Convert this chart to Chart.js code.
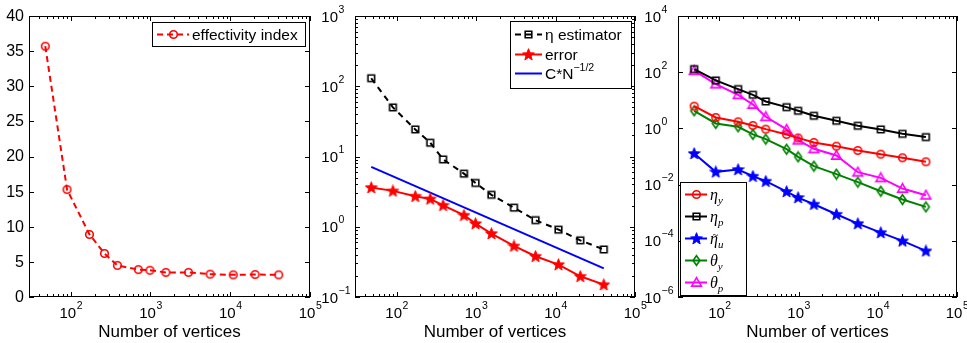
<!DOCTYPE html>
<html>
<head>
<meta charset="utf-8">
<script src="https://cdn.jsdelivr.net/npm/chart.js@4.4.1/dist/chart.umd.min.js"></script>
<style>
  body { margin: 0; background: #fff; }
  #wrap { position: relative; width: 967px; height: 343px; background: #fff; }
  #wrap canvas { position: absolute; left: 0; top: 0; }
</style>
</head>
<body>
<div id="wrap">
  <canvas id="effChart" width="967" height="343"></canvas>
  <canvas id="errChart" width="967" height="343"></canvas>
  <canvas id="partChart" width="967" height="343"></canvas>
</div>
<script>
// mesh sizes
const vertices = [48, 90, 172, 265, 385, 705, 985, 1560, 3000, 5600, 10900, 20500, 40500];

// left panel
const effectivity = [35.7, 15.3, 8.9, 6.2, 4.5, 3.9, 3.8, 3.5, 3.5, 3.25, 3.15, 3.2, 3.15];

// middle panel
const estimator = [130, 50, 24.3, 15.7, 9.1, 5.7, 4.2, 2.85, 1.87, 1.24, 0.91, 0.64, 0.475];
const errorVals = [3.62, 3.24, 2.72, 2.49, 2.02, 1.46, 1.11, 0.8, 0.533, 0.38, 0.289, 0.197, 0.15];
const rateX = [48, 40500];
const rateY = [7.1, 0.255];

// right panel
const etaY = [6.2, 2.45, 1.72, 1.27, 0.94, 0.61, 0.46, 0.315, 0.233, 0.164, 0.121, 0.09, 0.065];
const etaP = [129, 51, 25, 15.7, 9.1, 5.7, 4.24, 2.81, 1.87, 1.24, 0.92, 0.64, 0.49];
const etaU = [0.128, 0.0284, 0.0344, 0.0199, 0.0132, 0.00566, 0.00346, 0.002, 0.00088, 0.00041, 0.000196, 0.0000989, 0.0000436];
const thetaY = [4.24, 1.5, 1.14, 0.61, 0.415, 0.182, 0.097, 0.0453, 0.0235, 0.0122, 0.00582, 0.00294, 0.00161];
const thetaP = [113, 37.8, 15.7, 7.1, 2.59, 0.92, 0.382, 0.1875, 0.109, 0.0277, 0.0174, 0.00724, 0.00419];

const xExps = [2, 3, 4, 5];
const effTicks = [0, 5, 10, 15, 20, 25, 30, 35, 40];
const errExps = [-1, 0, 1, 2, 3];
const partExps = [-6, -4, -2, 0, 2, 4];

const SANS = "'Liberation Sans', Arial, sans-serif";
const SERIF = "'Liberation Serif', 'Times New Roman', serif";

function pts(xs, ys) {
  return ys.map((y, i) => ({ x: xs[i], y: y }));
}

// matlab-ish marker glyphs, drawn once into small canvases
function marker(shape, color) {
  const c = document.createElement("canvas");
  c.width = 13; c.height = 13;
  const g = c.getContext("2d");
  const m = 6.5;
  g.strokeStyle = color; g.fillStyle = color; g.lineWidth = 1.6;
  g.beginPath();
  if (shape === "circle") {
    g.arc(m, m, 3.8, 0, Math.PI * 2);
    g.stroke();
  } else if (shape === "square") {
    g.rect(m - 3.3, m - 3.3, 6.6, 6.6);
    g.stroke();
  } else if (shape === "diamond") {
    g.moveTo(m, m - 4.8); g.lineTo(m + 3.4, m); g.lineTo(m, m + 4.8); g.lineTo(m - 3.4, m); g.closePath();
    g.stroke();
  } else if (shape === "triangle") {
    g.moveTo(m, m - 4.8); g.lineTo(m + 4.8, m + 3.6); g.lineTo(m - 4.8, m + 3.6); g.closePath();
    g.stroke();
  } else if (shape === "star") {
    for (let i = 0; i < 10; i++) {
      const r = i % 2 ? 2.6 : 6.2;
      const a = -Math.PI / 2 + i * Math.PI / 5;
      const px = m + r * Math.cos(a), py = m + 0.4 + r * Math.sin(a);
      if (i) g.lineTo(px, py); else g.moveTo(px, py);
    }
    g.closePath();
    g.fill();
    g.lineWidth = 1; g.stroke();
  }
  return c;
}

function pow10(ctx, exp, x, y, align) {
  const sup = String(exp).replace("-", "\u2212");
  ctx.font = "15px " + SANS;
  const wb = ctx.measureText("10").width;
  ctx.font = "10.5px " + SANS;
  const ws = ctx.measureText(sup).width;
  const x0 = align === "center" ? x - (wb + ws) / 2 : x - wb;
  ctx.textAlign = "left";
  ctx.textBaseline = "alphabetic";
  ctx.font = "15px " + SANS;
  ctx.fillText("10", x0, y);
  ctx.font = "10.5px " + SANS;
  ctx.fillText(sup, x0 + wb + 0.5, y - 9);
}

// rich text: list of {t, f, dy, dx, over}
function richText(ctx, segs, x, y) {
  ctx.textAlign = "left";
  ctx.textBaseline = "alphabetic";
  let cx = x, lastW = 0;
  segs.forEach(s => {
    ctx.font = s.f;
    const w = ctx.measureText(s.t).width;
    if (s.over) {
      ctx.fillText(s.t, cx - lastW / 2 - w / 2 + (s.dx || 0), y + (s.dy || 0));
      return;
    }
    ctx.fillText(s.t, cx, y + (s.dy || 0));
    cx += w; lastW = w;
  });
}

const matlabAxes = {
  id: "matlabAxes",
  afterDraw(chart, args, o) {
    const ctx = chart.ctx, a = chart.chartArea;
    const xs = chart.scales.x, ys = chart.scales.y;
    ctx.save();
    ctx.strokeStyle = "#000";
    ctx.fillStyle = "#000";
    ctx.lineWidth = 1;
    ctx.beginPath();
    // x ticks, inward on bottom and top
    for (let d = 1; d <= 5; d++) {
      for (let k = 1; k <= 9; k++) {
        const v = k * Math.pow(10, d);
        if (v < xs.min || v > xs.max) continue;
        const px = Math.round(xs.getPixelForValue(v)) + 0.5;
        const len = k === 1 ? 5 : 3;
        ctx.moveTo(px, a.bottom); ctx.lineTo(px, a.bottom - len);
        ctx.moveTo(px, a.top); ctx.lineTo(px, a.top + len);
      }
    }
    // y ticks, inward on left and right
    const yTick = (v, len) => {
      const py = Math.round(ys.getPixelForValue(v)) + 0.5;
      ctx.moveTo(a.left, py); ctx.lineTo(a.left + len, py);
      ctx.moveTo(a.right, py); ctx.lineTo(a.right - len, py);
    };
    if (o.yExps) {
      o.yExps.forEach(e => yTick(Math.pow(10, e), 5));
      if (o.yMinor) {
        for (let d = o.yExps[0]; d < o.yExps[o.yExps.length - 1]; d++) {
          for (let k = 2; k <= 9; k++) yTick(k * Math.pow(10, d), 3);
        }
      }
    } else {
      o.yTicks.forEach(v => yTick(v, 5));
    }
    ctx.stroke();
    ctx.strokeRect(a.left + 0.5, a.top + 0.5, a.right - a.left - 1, a.bottom - a.top - 1);

    // tick labels
    xExps.forEach(e => pow10(ctx, e, xs.getPixelForValue(Math.pow(10, e)), a.bottom + 21, "center"));
    if (o.yExps) {
      o.yExps.forEach(e => pow10(ctx, e, a.left - 17, ys.getPixelForValue(Math.pow(10, e)) + 5.5, "right"));
    } else {
      ctx.font = "16px " + SANS;
      ctx.textAlign = "right";
      ctx.textBaseline = "middle";
      o.yTicks.forEach(v => ctx.fillText(String(v), a.left - 5, ys.getPixelForValue(v) + 0.5));
    }

    // axis title
    ctx.font = "17px " + SANS;
    ctx.textAlign = "center";
    ctx.textBaseline = "alphabetic";
    ctx.fillText("Number of vertices", (a.left + a.right) / 2, a.bottom + 40);

    // legend box
    const L = o.legend;
    ctx.fillStyle = "#fff";
    ctx.fillRect(L.x, L.y, L.w, L.h);
    ctx.strokeStyle = "#000";
    ctx.lineWidth = 1;
    ctx.strokeRect(L.x + 0.5, L.y + 0.5, L.w, L.h);
    L.items.forEach((it, i) => {
      const ds = chart.data.datasets[it.ds];
      const cy = Math.round(L.y + L.first + i * L.step) + 0.5;
      const x1 = L.x + 5, x2 = x1 + L.sample;
      ctx.strokeStyle = ds.borderColor;
      ctx.lineWidth = ds.borderWidth;
      ctx.setLineDash(ds.borderDash || []);
      ctx.beginPath();
      ctx.moveTo(x1, cy); ctx.lineTo(x2, cy);
      ctx.stroke();
      ctx.setLineDash([]);
      if (ds.pointRadius !== 0) {
        const img = ds.pointStyle;
        ctx.drawImage(img, Math.round((x1 + x2) / 2 - img.width / 2), Math.round(cy - img.height / 2));
      }
      ctx.fillStyle = "#000";
      richText(ctx, it.text, x2 + 3, cy + 5);
    });
    ctx.restore();
  }
};

function baseOptions(left, right, scaleY, axesOpts) {
  return {
    responsive: false,
    animation: false,
    events: [],
    layout: { padding: { left: left, right: 967 - right, top: 16, bottom: 343 - 297 } },
    plugins: {
      legend: { display: false },
      tooltip: { enabled: false },
      matlabAxes: axesOpts
    },
    scales: {
      x: { type: "logarithmic", min: 30, max: 100000, display: false },
      y: Object.assign({ display: false }, scaleY)
    }
  };
}

function series(data, color, opts) {
  return Object.assign({
    data: data,
    borderColor: color,
    backgroundColor: color,
    borderWidth: 2,
    tension: 0,
    fill: false,
    pointRadius: 5,
    clip: false
  }, opts);
}

// effectivity index
new Chart(document.getElementById("effChart"), {
  type: "line",
  data: {
    datasets: [
      series(pts(vertices, effectivity), "#ff0000", { borderDash: [6, 4], pointStyle: marker("circle", "#ff0000") })
    ]
  },
  options: baseOptions(29, 310, { type: "linear", min: 0, max: 40 }, {
    yTicks: effTicks,
    legend: {
      x: 152, y: 22, w: 153, h: 24, first: 12, step: 0, sample: 32,
      items: [{ ds: 0, text: [{ t: "effectivity index", f: "15.5px " + SANS }] }]
    }
  }),
  plugins: [matlabAxes]
});

// estimator vs error
new Chart(document.getElementById("errChart"), {
  type: "line",
  data: {
    datasets: [
      series(pts(vertices, estimator), "#000000", { borderDash: [6, 5], pointStyle: marker("square", "#000000") }),
      series(pts(vertices, errorVals), "#ff0000", { pointStyle: marker("star", "#ff0000") }),
      series(pts(rateX, rateY), "#0000ff", { pointRadius: 0 })
    ]
  },
  options: baseOptions(355, 635, { type: "logarithmic", min: 0.1, max: 1000 }, {
    yExps: errExps,
    yMinor: true,
    legend: {
      x: 510, y: 21, w: 121, h: 67, first: 13, step: 19.5, sample: 27,
      items: [
        { ds: 0, text: [{ t: "\u03b7 estimator", f: "15.5px " + SANS }] },
        { ds: 1, text: [{ t: "error", f: "15.5px " + SANS }] },
        { ds: 2, text: [{ t: "C*N", f: "15.5px " + SANS }, { t: "\u22121/2", f: "10.5px " + SANS, dy: -8 }] }
      ]
    }
  }),
  plugins: [matlabAxes]
});

// individual estimator parts
const sub = t => ({ t: t, f: "italic 11px " + SERIF, dy: 4 });
const sym = t => ({ t: t, f: "italic 16px " + SERIF });
new Chart(document.getElementById("partChart"), {
  type: "line",
  data: {
    datasets: [
      series(pts(vertices, etaY), "#ff0000", { pointStyle: marker("circle", "#ff0000") }),
      series(pts(vertices, etaP), "#000000", { pointStyle: marker("square", "#000000") }),
      series(pts(vertices, etaU), "#0000ff", { pointStyle: marker("star", "#0000ff") }),
      series(pts(vertices, thetaY), "#008000", { pointStyle: marker("diamond", "#008000") }),
      series(pts(vertices, thetaP), "#ff00ff", { pointStyle: marker("triangle", "#ff00ff") })
    ]
  },
  options: baseOptions(678, 957, { type: "logarithmic", min: 1e-6, max: 1e4 }, {
    yExps: partExps,
    yMinor: false,
    legend: {
      x: 680, y: 182, w: 66, h: 113, first: 11.5, step: 22, sample: 22,
      items: [
        { ds: 0, text: [sym("\u03b7"), sub("y")] },
        { ds: 1, text: [sym("\u03b7"), sub("p")] },
        { ds: 2, text: [sym("\u03b7"), { t: "~", f: "11px " + SERIF, dy: -6, dx: 1.5, over: true }, sub("u")] },
        { ds: 3, text: [sym("\u03b8"), sub("y")] },
        { ds: 4, text: [sym("\u03b8"), sub("p")] }
      ]
    }
  }),
  plugins: [matlabAxes]
});
</script>
</body>
</html>
